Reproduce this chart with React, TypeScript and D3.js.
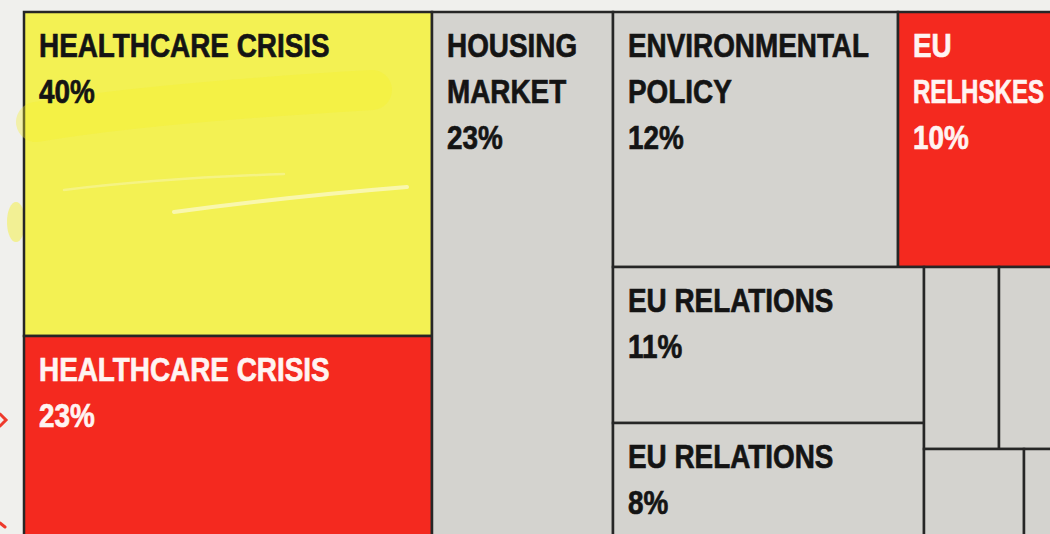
import React, { useLayoutEffect, useRef, useState } from 'react';
import * as d3 from 'd3';

// leaf cells of the treemap
const ids = ['hc40', 'hc23', 'housing', 'env', 'eu10', 'eur11', 'eur8', 's1', 's2', 's3', 's4'];
const parentOf = ['colA', 'colA', 'colB', 'cTop', 'cTop', 'cD', 'cD', 'e1', 'e1', 'e2', 'e2'];
const labels = [
  ['HEALTHCARE CRISIS'],
  ['HEALTHCARE CRISIS'],
  ['HOUSING', 'MARKET'],
  ['ENVIRONMENTAL', 'POLICY'],
  ['EU', 'RELHSKES'],
  ['EU RELATIONS'],
  ['EU RELATIONS'],
  [],
  [],
  [],
  [],
];
const pct = [40, 23, 23, 12, 10, 11, 8, null, null, null, null];
// share of the treemap area each cell takes
const areaShare = [21.6, 14.9, 16.2, 11.9, 10.1, 7.9, 7.0, 2.2, 4.2, 1.8, 2.1];
const tone = ['lead', 'alert', 'base', 'base', 'alert', 'base', 'base', 'base', 'base', 'base', 'base'];

// group nodes: [id, parent]
const groups = [
  ['root', ''],
  ['colA', 'root'],
  ['colB', 'root'],
  ['colC', 'root'],
  ['cTop', 'colC'],
  ['cBot', 'colC'],
  ['cD', 'cBot'],
  ['cE', 'cBot'],
  ['e1', 'cE'],
  ['e2', 'cE'],
];

const WIDTH = 1050;
const HEIGHT = 534;
// the map runs past the right and bottom edges of the frame
const area = { x0: 24, y0: 12, x1: 1140, y1: 560 };

const fill = d3
  .scaleOrdinal<string, string>()
  .domain(['lead', 'alert', 'base'])
  .range(['#f3f153', '#f4291f', '#d4d3cf']);
const ink = d3
  .scaleOrdinal<string, string>()
  .domain(['lead', 'alert', 'base'])
  .range(['#141414', '#fff4f2', '#141414']);

interface Row {
  id: string;
  parent: string;
  idx: number;
}

export default function App() {
  const rows: Row[] = [
    ...groups.map(g => ({ id: g[0], parent: g[1], idx: -1 })),
    ...ids.map((id, i) => ({ id, parent: parentOf[i], idx: i })),
  ];

  const root = d3
    .stratify<Row>()
    .id(d => d.id)
    .parentId(d => (d.parent === '' ? null : d.parent))(rows)
    .sum(d => (d.idx >= 0 ? areaShare[d.idx] : 0));

  d3
    .treemap<Row>()
    .tile(d3.treemapSliceDice)
    .size([area.x1 - area.x0, area.y1 - area.y0])
    .round(true)(root);

  const leaves = root.leaves() as d3.HierarchyRectangularNode<Row>[];
  const lead = leaves.find(d => tone[d.data.idx] === 'lead')!;

  const fontSize = 34;
  const lineStep = 46;
  const narrow = 0.82; // squeeze the sans into a narrow cut
  const padX = 15;

  // squeeze any line that would run out of the frame
  const svgRef = useRef<SVGSVGElement>(null);
  const [fit, setFit] = useState<Record<string, number>>({});
  useLayoutEffect(() => {
    if (!svgRef.current) return;
    const next: Record<string, number> = {};
    svgRef.current.querySelectorAll<SVGTSpanElement>('tspan[data-key]').forEach(el => {
      const key = el.getAttribute('data-key')!;
      const left = Number(el.getAttribute('data-left'));
      const w = el.getComputedTextLength() * narrow;
      const room = WIDTH - 6 - left;
      if (w > room) next[key] = room / narrow;
    });
    setFit(next);
  }, []);

  return (
    <svg
      ref={svgRef}
      width={WIDTH}
      height={HEIGHT}
      viewBox={`0 0 ${WIDTH} ${HEIGHT}`}
      style={{ position: 'absolute', left: 0, top: 0, display: 'block' }}
    >
      <rect x={0} y={0} width={WIDTH} height={HEIGHT} fill="#f0f0ed" />

      {/* marker smudges at the left margin */}
      <g fill="none" stroke="#ee3a2c" strokeWidth={3} strokeLinecap="round">
        <path d="M0,414 L6,420 L0,426" />
        <path d="M0,523 L5,527" />
      </g>
      <ellipse cx={16} cy={222} rx={9} ry={20} fill="#f4f058" opacity={0.6} />

      <g transform={`translate(${area.x0},${area.y0})`}>
        {leaves.map(d => {
          const i = d.data.idx;
          return (
            <rect
              key={d.data.id}
              x={d.x0}
              y={d.y0}
              width={d.x1 - d.x0}
              height={d.y1 - d.y0}
              fill={fill(tone[i])}
              stroke="#262626"
              strokeWidth={2.5}
            />
          );
        })}

        {/* highlighter strokes over the lead cell */}
        <g pointerEvents="none" fill="none" strokeLinecap="round">
          <path
            d={`M${lead.x0 + 12},${lead.y0 + 110} C${lead.x0 + 120},${lead.y0 + 92} ${lead.x0 + 280},${lead.y0 + 82} ${lead.x1 - 60},${lead.y0 + 78}`}
            stroke="#f6f22c"
            strokeWidth={40}
            opacity={0.35}
          />
          <path
            d={`M${lead.x0 + 150},${lead.y0 + 200} C${lead.x0 + 240},${lead.y0 + 188} ${lead.x0 + 320},${lead.y0 + 180} ${lead.x1 - 25},${lead.y0 + 175}`}
            stroke="#fbf9d4"
            strokeWidth={4}
            opacity={0.7}
          />
          <path
            d={`M${lead.x0 + 40},${lead.y0 + 178} C${lead.x0 + 120},${lead.y0 + 168} ${lead.x0 + 200},${lead.y0 + 164} ${lead.x0 + 260},${lead.y0 + 162}`}
            stroke="#f8f6b4"
            strokeWidth={2.5}
            opacity={0.5}
          />
        </g>

        {leaves.map(d => {
          const i = d.data.idx;
          const lines = pct[i] == null ? labels[i] : [...labels[i], `${pct[i]}%`];
          const color = ink(tone[i]);
          return (
            <g
              key={d.data.id}
              transform={`translate(${d.x0 + padX},${d.y0 + 45}) scale(${narrow},1)`}
            >
              <text
                fill={color}
                stroke={color}
                strokeWidth={0.7}
                fontSize={fontSize}
                fontWeight="bold"
                fontFamily="'Liberation Sans', Arial, sans-serif"
              >
                {lines.map((t, k) => {
                  const key = `${d.data.id}-${k}`;
                  const len = fit[key];
                  return (
                    <tspan
                      key={k}
                      x={0}
                      y={k * lineStep}
                      data-key={key}
                      data-left={area.x0 + d.x0 + padX}
                      {...(len ? { textLength: len, lengthAdjust: 'spacingAndGlyphs' } : {})}
                    >
                      {t}
                    </tspan>
                  );
                })}
              </text>
            </g>
          );
        })}
      </g>
    </svg>
  );
}
